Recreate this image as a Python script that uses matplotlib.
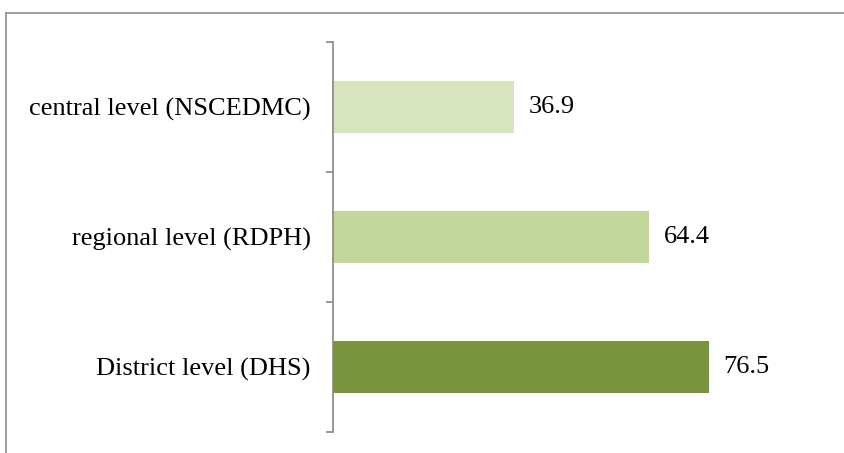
import matplotlib.pyplot as plt
from matplotlib.lines import Line2D
import numpy as np

# data (top to bottom)
categories = ['central level (NSCEDMC)', 'regional level (RDPH)', 'District level (DHS)']
values = [36.9, 64.4, 76.5]
colors = ['#D7E4BD', '#C3D69B', '#77933C']

plt.rcParams['font.family'] = ['Liberation Serif', 'DejaVu Serif']

W, H = 845, 453
fig = plt.figure(figsize=(W / 100, H / 100), dpi=100)

# axes placed in pixel terms
left, right, top, bottom = 333, 824, 42, 432
ax = fig.add_axes([left / W, 1 - bottom / H, (right - left) / W, (bottom - top) / H])

y = np.arange(len(categories))
ax.barh(y, values, height=0.4, color=colors)

for yi, v in zip(y, values):
    ax.annotate(f'{v}', (v, yi), xytext=(15, 0), textcoords='offset pixels',
                va='center', ha='left', fontsize=19)

ax.set_xlim(0, 100)
ax.set_ylim(2.5, -0.5)

ax.set_yticks(y)
ax.set_yticklabels(categories, fontsize=19)
ax.set_yticks(np.arange(-0.5, len(categories)), minor=True)
ax.tick_params(axis='y', which='major', length=0, pad=16)
ax.tick_params(axis='y', which='minor', length=5, width=1.2, color='#868686')
ax.set_xticks([])

for s in ['top', 'right', 'bottom']:
    ax.spines[s].set_visible(False)
ax.spines['left'].set_color('#868686')
ax.spines['left'].set_linewidth(1.2)

# chart area frame (only top and left edges visible)
fx, fy = 6 / W, 1 - 13 / H
fig.add_artist(Line2D([fx, fx], [0, fy], transform=fig.transFigure, color='#8C8C8C', lw=1.2))
fig.add_artist(Line2D([fx, 1], [fy, fy], transform=fig.transFigure, color='#8C8C8C', lw=1.2))

fig.savefig('out.png', dpi=100)
